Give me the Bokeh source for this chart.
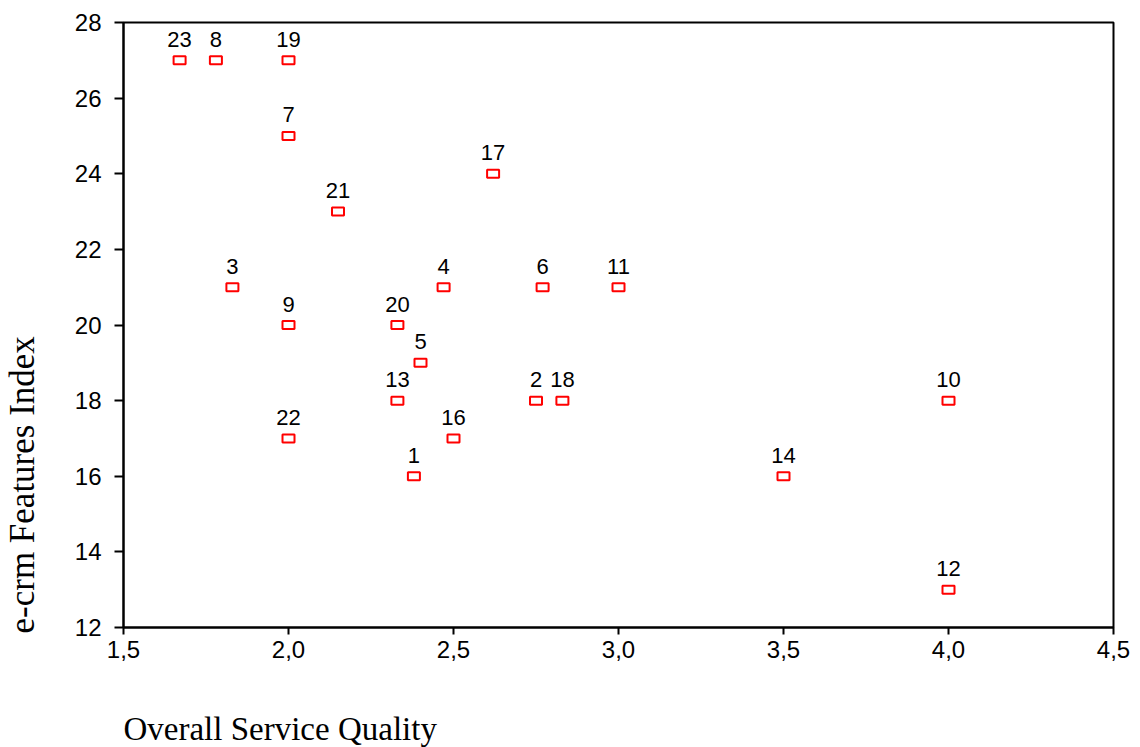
import math
from bokeh.plotting import figure
from bokeh.models import ColumnDataSource, Range1d, FixedTicker, CustomJSTickFormatter, Label
from bokeh.core.properties import value
from bokeh.embed import file_html
from bokeh.resources import INLINE

# Data
case_ids = ["23", "8", "19", "7", "21", "17", "3", "9", "4", "6", "11", "20", "5",
            "13", "2", "18", "22", "16", "1", "14", "10", "12"]
service_quality = [1.67, 1.78, 2.0, 2.0, 2.15, 2.62, 1.83, 2.0, 2.47, 2.77, 3.0, 2.33, 2.4,
                   2.33, 2.75, 2.83, 2.0, 2.5, 2.38, 3.5, 4.0, 4.0]
ecrm_index = [27, 27, 27, 25, 23, 24, 21, 20, 21, 21, 21, 20, 19,
              18, 18, 18, 17, 17, 16, 16, 18, 13]

x_ticks = [1.5, 2.0, 2.5, 3.0, 3.5, 4.0, 4.5]
y_ticks = [12, 14, 16, 18, 20, 22, 24, 26, 28]

X0, X1, Y0, Y1 = 1.5, 4.5, 12, 28
W, H = 1140, 747
BL, BR, BT, BB = 123, 27, 22, 120

src = ColumnDataSource(dict(x=service_quality, y=ecrm_index, label=case_ids))

p = figure(width=W, height=H, output_backend="svg", toolbar_location=None,
           x_range=Range1d(X0, X1), y_range=Range1d(Y0, Y1),
           min_border_left=BL, min_border_right=BR, min_border_top=BT, min_border_bottom=BB)

p.xgrid.visible = False
p.ygrid.visible = False
p.outline_line_color = "black"
p.outline_line_width = 2
p.outline_line_alpha = 1.0
p.background_fill_color = "white"
p.border_fill_color = "white"

for ax in (p.xaxis[0], p.yaxis[0]):
    ax.axis_line_width = 2
    ax.axis_line_color = "black"
    ax.major_tick_line_width = 2
    ax.major_tick_line_color = "black"
    ax.major_tick_in = 0
    ax.minor_tick_line_color = None
    ax.major_label_text_font = "Liberation Sans"
    ax.major_label_text_font_size = "24px"
    ax.major_label_text_color = "black"

p.xaxis[0].ticker = FixedTicker(ticks=x_ticks)
p.xaxis[0].formatter = CustomJSTickFormatter(code="return tick.toFixed(1).replace('.', ',');")
p.xaxis[0].major_tick_out = 7
p.xaxis[0].major_label_standoff = 6

p.yaxis[0].ticker = FixedTicker(ticks=y_ticks)
p.yaxis[0].major_tick_out = 9
p.yaxis[0].major_label_standoff = 13

# markers
p.rect(x="x", y="y", width=12, height=8, width_units="screen", height_units="screen",
       source=src, fill_color="white", line_color="#ff0000", line_width=2)

# point labels
p.text(x="x", y="y", text="label", source=src, y_offset=-21,
       text_align="center", text_baseline="alphabetic",
       text_font=value("Liberation Sans"), text_font_size="22px", text_color="black")

# axis titles as labels in the side panels, start-aligned with each axis
fw = W - BL - BR
fh = H - BT - BB
px_x = (X1 - X0) / fw
px_y = (Y1 - Y0) / fh
p.add_layout(Label(x=X0, y=Y0 - 101 * px_y,
                   text="Overall Service Quality", text_align="left", text_baseline="alphabetic",
                   text_font="Liberation Serif", text_font_size="33px", text_color="black"), "below")
p.add_layout(Label(x=X0 - 101 * px_x, y=Y0 - 6 * px_y, angle=math.pi / 2,
                   text="e-crm Features Index", text_align="left", text_baseline="alphabetic",
                   text_font="Liberation Serif", text_font_size="35px", text_color="black"), "left")

open("out.html", "w").write(file_html(p, INLINE))
